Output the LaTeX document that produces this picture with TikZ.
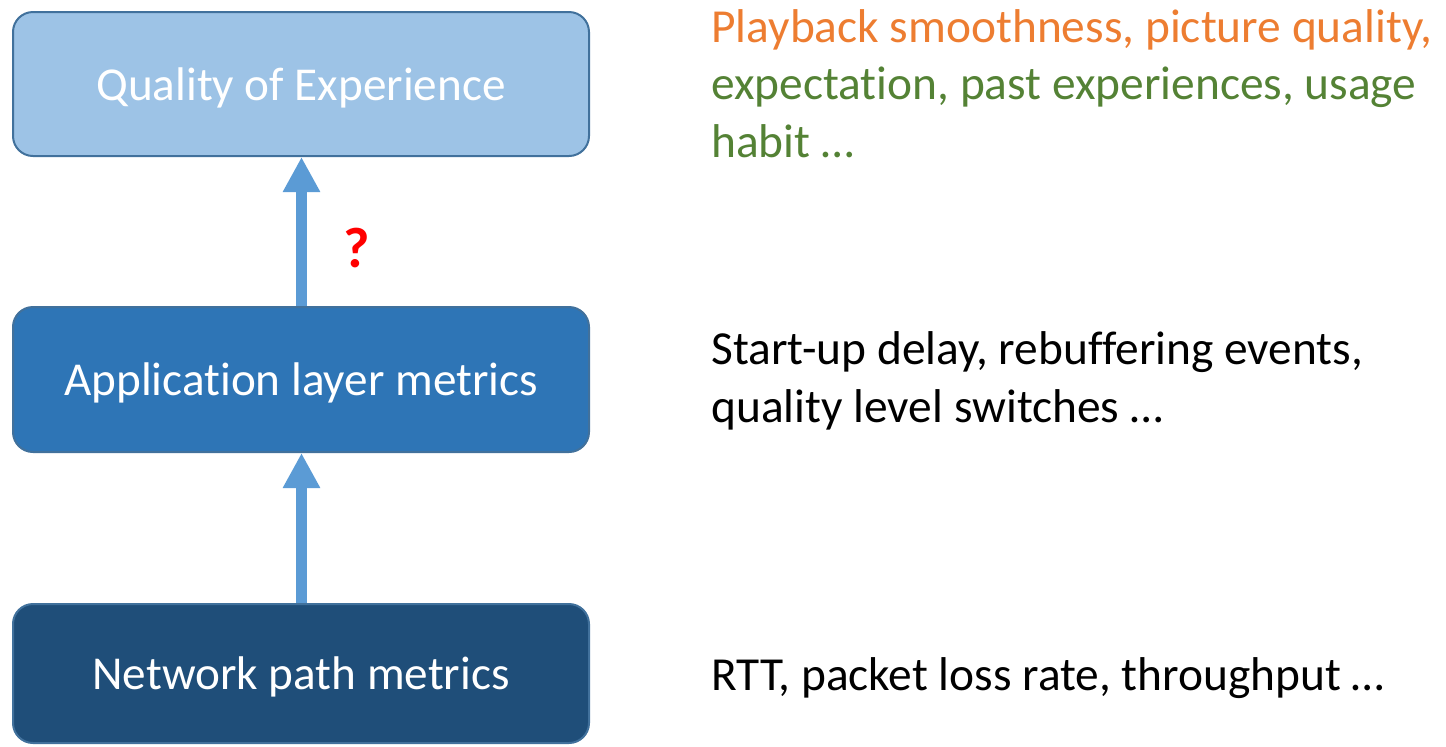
\documentclass[tikz,border=0pt]{standalone}
\usepackage{fontspec}
\setmainfont{Carlito}[RawFeature=-liga]
\usetikzlibrary{arrows.meta}
\definecolor{qoefill}{HTML}{9DC3E6}
\definecolor{appfill}{HTML}{2E75B6}
\definecolor{netfill}{HTML}{1F4E79}
\definecolor{outline}{HTML}{41719C}
\definecolor{arrowblue}{HTML}{5B9BD5}
\definecolor{txtorange}{HTML}{ED7D31}
\definecolor{txtgreen}{HTML}{548235}
\begin{document}
\begin{tikzpicture}[x=0.5pt,y=-0.5pt,
  layerbox/.style={draw=outline, line width=1pt, rounded corners=10pt,
    minimum width=288pt, inner sep=0pt, text=white,
    font=\fontsize{23.6pt}{28.75pt}\selectfont,
    text height=18pt, text depth=2pt},
  uparrow/.style={draw=arrowblue, line width=5.8pt,
    -{Triangle[width=17.5pt,length=17.5pt]}},
  sidetext/.style={anchor=base west, align=left, inner sep=0pt,
    font=\fontsize{23.7pt}{28.75pt}\selectfont}]
\useasboundingbox (0,0) rectangle (1446,746);

% the three layers
\node[layerbox, fill=qoefill, minimum height=72pt] (qoe) at (301,84) {Quality of Experience};
\node[layerbox, fill=appfill, minimum height=72.5pt] (app) at (301,379.5) {Application layer metrics};
\node[layerbox, fill=netfill, minimum height=69.5pt] (net) at (301,673.5) {Network path metrics};

% links between layers
\draw[uparrow] ([xshift=0.25pt]app.north) -- ([xshift=0.25pt]qoe.south);
\draw[uparrow] ([xshift=0.25pt]net.north) -- ([xshift=0.25pt]app.south);
\node[text=red, font=\bfseries\fontsize{28.5pt}{34pt}\selectfont, inner sep=0pt] (qmark) at (356.5,248.5) {?};

% factors of each layer (base anchor sits on the last line)
\node[sidetext] (qoetxt) at (711,157) {\color{txtorange}Playback smoothness, picture quality,\\
  \color{txtgreen}expectation, past experiences, usage\\
  \color{txtgreen}habit …};
\node[sidetext] (apptxt) at (711,422) {Start-up delay, rebuffering events,\\
  quality level switches …};
\node[sidetext] (nettxt) at (711,690) {RTT, packet loss rate, throughput …};
\end{tikzpicture}
\end{document}
